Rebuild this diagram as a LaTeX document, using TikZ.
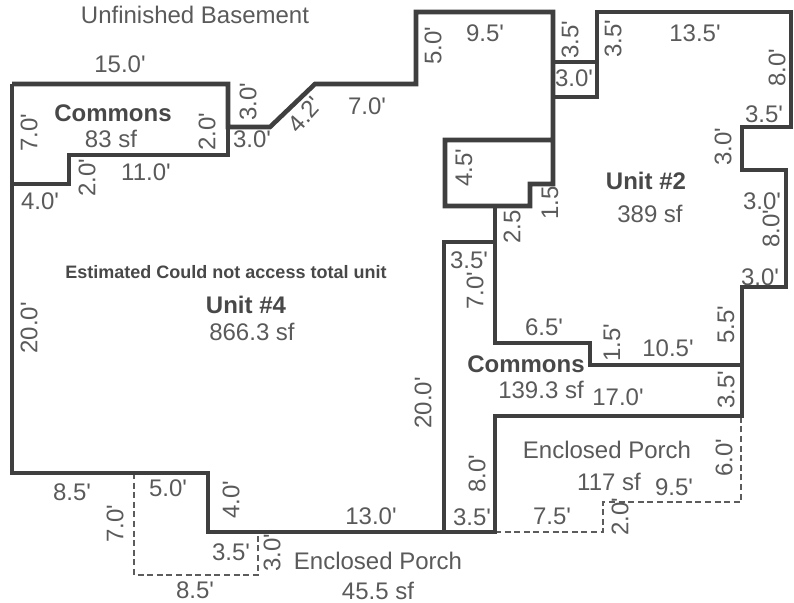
\documentclass[tikz,border=0pt]{standalone}
\usepackage{fontspec}
\setmainfont{Liberation Sans}[Ligatures=TeXOff]
\definecolor{wallgray}{HTML}{3F3F3F}
\definecolor{textgray}{HTML}{5A5A5A}
\tikzset{
  wall/.style={draw=wallgray,line width=2.3pt,line join=miter},
  porchline/.style={draw=wallgray!85,line width=0.7pt,dash pattern=on 3pt off 1.8pt},
  dimlabel/.style={inner sep=0pt,text=textgray,font=\fontsize{12}{12}\selectfont},
  dimup/.style={dimlabel,rotate=90},
  roomname/.style={inner sep=0pt,text=textgray!80!black,font=\fontsize{12}{12}\selectfont\bfseries}
}
\begin{document}
\begin{tikzpicture}[x=0.5pt,y=-0.5pt]
                \useasboundingbox (0,0) rectangle (794,603);
                % porches
                \draw[porchline] (134,473) -- (134,575) -- (258,575) -- (258,532);
                \draw[porchline] (495,532) -- (603,532) -- (603,502) -- (741,502) -- (741,416);
                % walls
                \draw[wall] (12,84) -- (228,84) -- (228,127) -- (270,127) -- (315,84) -- (416,84) -- (416,12) -- (553,12) -- (553,184) -- (530,184) -- (530,206) -- (445,206) -- (445,140) -- (553,140);
                \draw[wall] (12,84) -- (12,473) -- (208,473) -- (208,532) -- (495,532) -- (495,416) -- (742,416) -- (742,287) -- (786,287) -- (786,170) -- (742,170) -- (742,127) -- (791,127) -- (791,12) -- (597,12) -- (597,97) -- (553,97);
                \draw[wall] (553,62) -- (597,62);
                \draw[wall] (12,184) -- (69,184) -- (69,155) -- (228,155) -- (228,127);
                \draw[wall] (495,206) -- (495,343) -- (590,343) -- (590,365) -- (742,365);
                \draw[wall] (495,242) -- (444,242) -- (444,532);
                % rooms
                \node[dimlabel] (basement) at (195,15) {Unfinished Basement};
                \node[roomname] (commonsA) at (113,113) {Commons};
                \node[dimlabel] (commonsAsf) at (111,139) {83 sf};
                \node[roomname] (unitB) at (646,181) {Unit \#2};
                \node[dimlabel] (unitBsf) at (650,214) {389 sf};
                \node[inner sep=0pt,text=textgray!80!black,font=\fontsize{9}{10}\selectfont\bfseries] (estimate) at (226,272) {Estimated Could not access total unit};
                \node[roomname] (unitD) at (246,305) {Unit \#4};
                \node[dimlabel] (unitDsf) at (252,332) {866.3 sf};
                \node[roomname] (commonsB) at (526,364) {Commons};
                \node[dimlabel] (commonsBsf) at (541,390) {139.3 sf};
                \node[dimlabel] (porchA) at (607,450) {Enclosed Porch};
                \node[dimlabel] (porchAsf) at (609,482) {117 sf};
                \node[dimlabel] (porchB) at (378,561) {Enclosed Porch};
                \node[dimlabel] (porchBsf) at (378,591) {45.5 sf};
                % dimensions along the walls
                \node[dimlabel] (topA) at (120,64) {15.0'};
                \node[dimup] (leftA) at (29,133) {7.0'};
                \node[dimup] (rightA) at (207,132) {2.0'};
                \node[dimup] (stepA) at (248,102) {3.0'};
                \node[dimlabel] (stepB) at (252,139) {3.0'};
                \node[dimlabel,rotate=48] (slant) at (305,115) {4.2'};
                \node[dimlabel] (topB) at (367,106) {7.0'};
                \node[dimup] (upA) at (433,46) {5.0'};
                \node[dimlabel] (topC) at (485,33) {9.5'};
                \node[dimup] (gapA) at (570,40) {3.5'};
                \node[dimlabel] (gapB) at (574,78) {3.0'};
                \node[dimup] (gapC) at (613,39) {3.5'};
                \node[dimlabel] (topD) at (695,33) {13.5'};
                \node[dimup] (eastA) at (777,68) {8.0'};
                \node[dimlabel] (eastB) at (764,114) {3.5'};
                \node[dimup] (eastC) at (723,147) {3.0'};
                \node[dimup] (closetA) at (464,168) {4.5'};
                \node[dimup] (closetB) at (550,203) {1.5};
                \node[dimup] (closetC) at (512,227) {2.5};
                \node[dimlabel] (eastD) at (762,201) {3.0'};
                \node[dimup] (eastE) at (771,229) {8.0'};
                \node[dimlabel] (eastF) at (760,277) {3.0'};
                \node[dimlabel] (hallA) at (469,260) {3.5'};
                \node[dimup] (hallB) at (475,291) {7.0'};
                \node[dimlabel] (hallC) at (544,327) {6.5'};
                \node[dimup] (hallD) at (612,343) {1.5'};
                \node[dimlabel] (hallE) at (668,348) {10.5'};
                \node[dimup] (eastG) at (726,325) {5.5'};
                \node[dimlabel] (hallF) at (618,397) {17.0'};
                \node[dimup] (eastH) at (726,390) {3.5'};
                \node[dimup] (hallG) at (423,403) {20.0'};
                \node[dimup] (hallH) at (477,474) {8.0'};
                \node[dimlabel] (hallI) at (472,517) {3.5'};
                \node[dimlabel] (porchC) at (552,516) {7.5'};
                \node[dimup] (porchD) at (620,517) {2.0'};
                \node[dimlabel] (porchE) at (674,487) {9.5'};
                \node[dimup] (porchF) at (724,458) {6.0'};
                \node[dimlabel] (westA) at (40,201) {4.0'};
                \node[dimup] (westB) at (87,178) {2.0'};
                \node[dimlabel] (westC) at (146,172) {11.0'};
                \node[dimup] (westD) at (29,328) {20.0'};
                \node[dimlabel] (southA) at (72,492) {8.5'};
                \node[dimlabel] (southB) at (168,488) {5.0'};
                \node[dimup] (southC) at (115,524) {7.0'};
                \node[dimup] (southD) at (231,500) {4.0'};
                \node[dimlabel] (southE) at (371,516) {13.0'};
                \node[dimlabel] (southF) at (231,552) {3.5'};
                \node[dimup] (southG) at (272,553) {3.0'};
                \node[dimlabel] (southH) at (195,590) {8.5'};
            \end{tikzpicture}
\end{document}
